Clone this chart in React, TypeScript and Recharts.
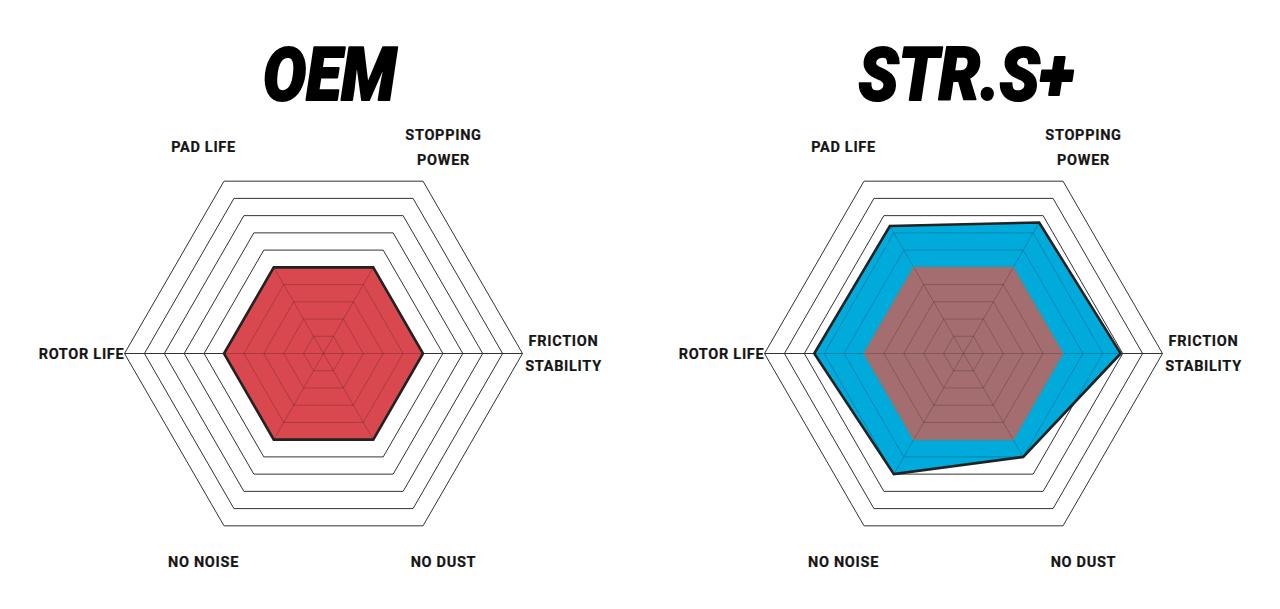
import React from "react";
import { PolarAngleAxis, PolarGrid, PolarRadiusAxis, Radar, RadarChart } from "recharts";

// axis order runs clockwise from the upper-right spoke
const categories = [
  "STOPPING\nPOWER",
  "FRICTION\nSTABILITY",
  "NO DUST",
  "NO NOISE",
  "ROTOR LIFE",
  "PAD LIFE",
];
const oemScores = [5, 5, 5, 5, 5, 5];
const strsScores = [7.6, 7.9, 6, 7, 7.5, 7.4];
const scoreMax = 10;
const ringValues = [1, 2, 3, 4, 5, 6, 7, 8, 9];

const rows = categories.map((axis, i) => ({ axis, oem: oemScores[i], strs: strsScores[i] }));

const CX = 323.5;
const CY = 353.5;
const R = 199;

function AxisLabel(props: any) {
  const { x, y, payload } = props;
  const lines = String(payload.value).split("\n");
  const gap = 25;
  const top = y - ((lines.length - 1) * gap) / 2 + (y < CY - 100 ? 1.5 : 0);
  return (
    <text
      textAnchor="middle"
      fontFamily="Roboto, 'DejaVu Sans', sans-serif"
      fontWeight={700}
      fontSize={14.5}
      letterSpacing={0.7}
      stroke="#151515"
      strokeWidth={0.2}
      fill="#151515"
    >
      {lines.map((l, i) => (
        <tspan key={i} x={x - (x < CX - 200 ? 2 : 0)} y={top + i * gap} dy="0.36em">
          {l}
        </tspan>
      ))}
    </text>
  );
}

// fill, then the web (rings + spokes) tinted inside the shape only, then the outline
function webShape(id: string, fill: string, stroke: string, strokeWidth: number) {
  return (props: any) => {
    const pts: any[] = props.points || [];
    if (!pts.length) return <g />;
    const cx = pts[0].cx;
    const cy = pts[0].cy;
    const d = pts.map((p, i) => `${i ? "L" : "M"}${p.x},${p.y}`).join("") + "Z";
    const rings = ringValues.map((v) =>
      pts
        .map((p, i) => {
          const k = v / p.value;
          return `${i ? "L" : "M"}${cx + (p.x - cx) * k},${cy + (p.y - cy) * k}`;
        })
        .join("") + "Z"
    );
    return (
      <g>
        <defs>
          <clipPath id={id}>
            <path d={d} />
          </clipPath>
        </defs>
        <path d={d} fill={fill} stroke="none" />
        <g clipPath={`url(#${id})`} stroke="#000" strokeOpacity={0.2} strokeWidth={1} fill="none">
          {rings.map((r, i) => (
            <path key={i} d={r} />
          ))}
          {pts.map((p, i) => (
            <line key={i} x1={cx} y1={cy} x2={p.x} y2={p.y} />
          ))}
        </g>
        <path d={d} fill="none" stroke={stroke} strokeWidth={strokeWidth} strokeLinejoin="miter" />
      </g>
    );
  };
}

function Spider({ id, title, titleX, titleLen, compare }: { id: string; title: string; titleX: number; titleLen: number; compare: boolean }) {
  return (
    <div style={{ position: "relative", width: 640, height: 609 }}>
      <RadarChart
        width={640}
        height={609}
        data={rows}
        cx={CX}
        cy={CY}
        outerRadius={R}
        startAngle={60}
        endAngle={-300}
        margin={{ top: 0, right: 0, bottom: 0, left: 0 }}
      >
        <PolarGrid gridType="polygon" radialLines={false} stroke="#333" strokeWidth={1} />
        <PolarGrid gridType="polygon" polarAngles={[0, 180]} polarRadius={[]} stroke="#333" strokeWidth={1} />
        <PolarRadiusAxis domain={[0, scoreMax]} tickCount={11} axisLine={false} tick={false} />
        <PolarAngleAxis dataKey="axis" tickLine={false} axisLine={false} tickSize={41} tick={AxisLabel} />
        {compare && (
          <Radar
            dataKey="strs"
            isAnimationActive={false}
            dot={false}
            shape={webShape(id + "-strs", "#00aadb", "#222", 2.6)}
          />
        )}
        <Radar
          dataKey="oem"
          isAnimationActive={false}
          dot={false}
          shape={
            compare
              ? webShape(id + "-oem", "#a46e70", "#7d7d7d", 1.6)
              : webShape(id + "-oem", "#d9484e", "#222", 2.6)
          }
        />
      </RadarChart>
      <svg width={640} height={120} style={{ position: "absolute", left: 0, top: 0 }}>
        <text
          x={titleX}
          y={100}
          textAnchor="middle"
          fontFamily="Roboto, 'DejaVu Sans', sans-serif"
          fontWeight={900}
          fontStyle="italic"
          fontSize={74}
          textLength={titleLen}
          lengthAdjust="spacingAndGlyphs"
          stroke="#000"
          strokeWidth={2}
          strokeLinejoin="round"
          fill="#000"
        >
          {title}
        </text>
      </svg>
    </div>
  );
}

export default function App() {
  return (
    <div style={{ position: "absolute", left: 0, top: 0, width: 1280, height: 609, background: "#fff", display: "flex" }}>
      <Spider id="left" title="OEM" titleX={329.5} titleLen={133} compare={false} />
      <Spider id="right" title="STR.S+" titleX={326} titleLen={215} compare={true} />
    </div>
  );
}
